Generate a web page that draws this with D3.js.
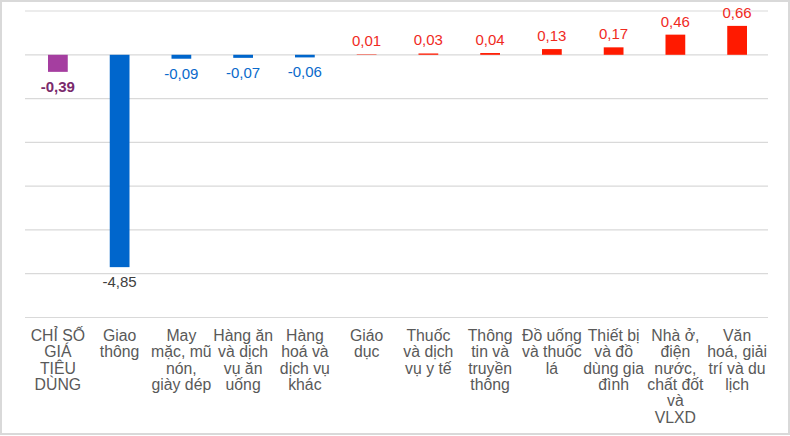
<!DOCTYPE html>
<html>
<head>
<meta charset="utf-8">
<script src="https://cdn.jsdelivr.net/npm/d3@7"></script>
<style>
html,body{margin:0;padding:0;background:#fff;}
svg{display:block;}
</style>
</head>
<body>
<svg id="chart" width="790" height="436"></svg>
<script>
const categories = [
  "CHỈ SỐ\nGIÁ\nTIÊU\nDÙNG",
  "Giao\nthông",
  "May\nmặc, mũ\nnón,\ngiày dép",
  "Hàng ăn\nvà dịch\nvụ ăn\nuống",
  "Hàng\nhoá và\ndịch vụ\nkhác",
  "Giáo\ndục",
  "Thuốc\nvà dịch\nvụ y tế",
  "Thông\ntin và\ntruyền\nthông",
  "Đồ uống\nvà thuốc\nlá",
  "Thiết bị\nvà đồ\ndùng gia\nđình",
  "Nhà ở,\nđiện\nnước,\nchất đốt\nvà\nVLXD",
  "Văn\nhoá, giải\ntrí và du\nlịch"
];
const values = [-0.39, -4.85, -0.09, -0.07, -0.06, 0.01, 0.03, 0.04, 0.13, 0.17, 0.46, 0.66];
const gridTicks = [1, 0, -1, -2, -3, -4, -5, -6];

const svg = d3.select("#chart");
const W = 790, H = 436;

svg.append("rect").attr("x", 1).attr("y", 1).attr("width", W - 2).attr("height", H - 3)
  .attr("fill", "#fff").attr("stroke", "#d9d9d9").attr("stroke-width", 2);

const x = d3.scaleBand().domain(d3.range(categories.length)).range([27, 768])
  .paddingInner(0.68).paddingOuter(0.34);
const y = d3.scaleLinear().domain([-6, 1]).range([317.5, 11]);

// gridlines
svg.append("g").selectAll("line").data(gridTicks).join("line")
  .attr("x1", 25).attr("x2", 768)
  .attr("y1", d => y(d)).attr("y2", d => y(d))
  .attr("stroke", "#d9d9d9").attr("stroke-width", 1.2);

function barColor(v, i) {
  if (i === 0) return "#a53ea0";
  return v < 0 ? "#0066cc" : "#ff1a00";
}
function labelColor(v, i) {
  if (i === 0) return "#7a2a6c";
  if (v < -1) return "#404040";
  return v < 0 ? "#0a6acb" : "#f02a1e";
}

svg.append("g").selectAll("rect").data(values).join("rect")
  .attr("x", (d, i) => x(i))
  .attr("width", x.bandwidth())
  .attr("y", d => y(Math.max(0, d)))
  .attr("height", d => Math.abs(y(d) - y(0)))
  .attr("fill", (d, i) => barColor(d, i));

const fmt = v => d3.format(".2f")(v).replace(".", ",").replace("−", "-");

svg.append("g").selectAll("text").data(values).join("text")
  .attr("x", (d, i) => x(i) + x.bandwidth() / 2)
  .attr("y", d => d < 0 ? y(d) + 20 : y(d) - 8)
  .attr("text-anchor", "middle")
  .attr("font-family", "Liberation Sans, Arial, sans-serif")
  .attr("font-size", 15)
  .attr("font-weight", (d, i) => i === 0 ? "bold" : "normal")
  .attr("fill", (d, i) => labelColor(d, i))
  .text(d => fmt(d));

// category labels
const cat = svg.append("g").selectAll("text").data(categories).join("text")
  .attr("x", (d, i) => x(i) + x.bandwidth() / 2)
  .attr("y", 341)
  .attr("text-anchor", "middle")
  .attr("font-family", "Liberation Sans, Arial, sans-serif")
  .attr("font-size", 15.8)
  .attr("fill", "#595959");
cat.each(function(d) {
  const t = d3.select(this);
  d.split("\n").forEach((line, k) => {
    t.append("tspan").attr("x", t.attr("x")).attr("dy", k === 0 ? 0 : 16.3).text(line);
  });
});
</script>
</body>
</html>
